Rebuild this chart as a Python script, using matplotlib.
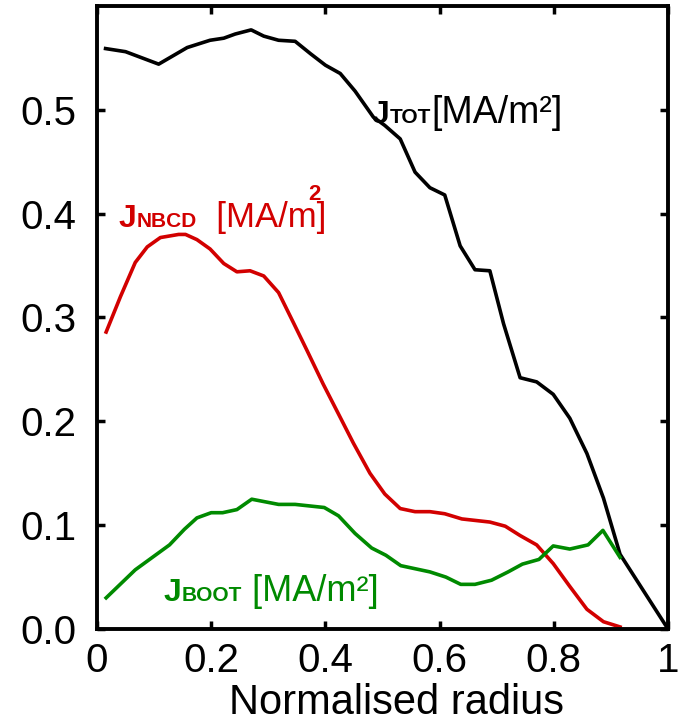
import matplotlib
matplotlib.use("Agg")
import matplotlib.pyplot as plt
from matplotlib.offsetbox import TextArea, HPacker, AnchoredOffsetbox

plt.rcParams['font.family'] = ['Liberation Sans', 'DejaVu Sans']

# ---- data ----
rho_tot = [0.015, 0.05, 0.108, 0.158, 0.198, 0.222, 0.242, 0.270, 0.292, 0.318,
           0.347, 0.374, 0.400, 0.426, 0.452, 0.484, 0.504, 0.531, 0.557, 0.583,
           0.609, 0.636, 0.662, 0.688, 0.712, 0.741, 0.770, 0.799, 0.828, 0.858,
           0.887, 0.916, 1.0]
j_tot = [0.559, 0.556, 0.544, 0.560, 0.567, 0.569, 0.573, 0.577, 0.571, 0.567,
         0.566, 0.554, 0.543, 0.535, 0.518, 0.493, 0.485, 0.472, 0.440, 0.425,
         0.418, 0.369, 0.346, 0.345, 0.294, 0.242, 0.238, 0.226, 0.203, 0.169,
         0.126, 0.072, 0.0]

rho_nbcd = [0.016, 0.041, 0.067, 0.088, 0.111, 0.143, 0.155, 0.175, 0.198, 0.222,
            0.245, 0.268, 0.292, 0.318, 0.344, 0.368, 0.396, 0.423, 0.449, 0.478,
            0.504, 0.531, 0.557, 0.583, 0.609, 0.639, 0.688, 0.715, 0.741, 0.770,
            0.799, 0.828, 0.858, 0.887, 0.916]
j_nbcd = [0.286, 0.320, 0.353, 0.368, 0.377, 0.380, 0.380, 0.375, 0.366, 0.352,
          0.344, 0.345, 0.340, 0.324, 0.295, 0.268, 0.236, 0.207, 0.179, 0.150,
          0.130, 0.116, 0.113, 0.113, 0.111, 0.106, 0.103, 0.099, 0.090, 0.081,
          0.063, 0.041, 0.019, 0.007, 0.002]

rho_boot = [0.016, 0.067, 0.127, 0.153, 0.175, 0.200, 0.220, 0.245, 0.271, 0.318,
            0.347, 0.398, 0.423, 0.452, 0.481, 0.506, 0.532, 0.583, 0.611, 0.637,
            0.662, 0.691, 0.720, 0.745, 0.774, 0.799, 0.828, 0.860, 0.886, 0.916]
j_boot = [0.030, 0.057, 0.081, 0.096, 0.107, 0.112, 0.112, 0.115, 0.125, 0.120,
          0.120, 0.117, 0.109, 0.092, 0.078, 0.071, 0.061, 0.055, 0.050, 0.043,
          0.043, 0.047, 0.055, 0.0625, 0.067, 0.080, 0.077, 0.081, 0.095, 0.069]

x_ticks = [0, 0.2, 0.4, 0.6, 0.8, 1.0]
x_ticklabels = ["0", "0.2", "0.4", "0.6", "0.8", "1"]
y_ticks = [0.0, 0.1, 0.2, 0.3, 0.4, 0.5]
y_ticklabels = ["0.0", "0.1", "0.2", "0.3", "0.4", "0.5"]

RED = '#d20000'
GREEN = '#008a00'
BLACK = '#000000'

fig = plt.figure(figsize=(6.78, 7.25), dpi=100)
ax = fig.add_axes([97 / 678, 96 / 725, 571 / 678, 623 / 725])

lw = 2.6
ax.plot(rho_tot, j_tot, color=BLACK, lw=lw)
ax.plot(rho_nbcd, j_nbcd, color=RED, lw=lw)
ax.plot(rho_boot, j_boot, color=GREEN, lw=lw)

ax.set_xlim(0, 1)
ax.set_ylim(0, 0.6)
ax.set_xticks(x_ticks)
ax.set_xticklabels(x_ticklabels)
ax.set_yticks(y_ticks)
ax.set_yticklabels(y_ticklabels)

for s in ax.spines.values():
    s.set_linewidth(2.8)
ax.tick_params(axis='both', direction='in', top=True, right=True,
               length=6, width=2.5, labelsize=29)
ax.tick_params(axis='x', pad=9)
ax.tick_params(axis='y', pad=15)

ax.set_xlabel("Normalised radius", fontsize=30)
ax.xaxis.set_label_coords(0.5245, -0.087)


def label(parts, x, y):
    areas = [TextArea(t, textprops=p) for t, p in parts]
    box = HPacker(children=areas, align="baseline", pad=0, sep=0)
    anc = AnchoredOffsetbox(loc='lower left', child=box, pad=0, borderpad=0,
                            frameon=False, bbox_to_anchor=(x, y),
                            bbox_transform=ax.transAxes)
    ax.add_artist(anc)


def parts_for(sub, rest, color, bigsize=23, subsize=15, restsize=25):
    return [("J", dict(color=color, fontsize=bigsize, fontweight='bold')),
            (sub, dict(color=color, fontsize=subsize, fontweight='bold')),
            (rest, dict(color=color, fontsize=restsize))]


label(parts_for("TOT", "[MA/m²]", BLACK, restsize=27),
      (372 - 97) / 571, (629 - 131) / 623)
label(parts_for("NBCD", "  [MA/m]", RED), (119 - 97) / 571, (629 - 234) / 623)
label(parts_for("BOOT", " [MA/m²]", GREEN, restsize=26),
      (164 - 97) / 571, (629 - 609) / 623)
ax.text((314 - 97) / 571, (629 - 194) / 623, "2", transform=ax.transAxes,
        color=RED, fontsize=16, fontweight='bold', ha='center', va='center')

fig.savefig("out.png", dpi=100)
